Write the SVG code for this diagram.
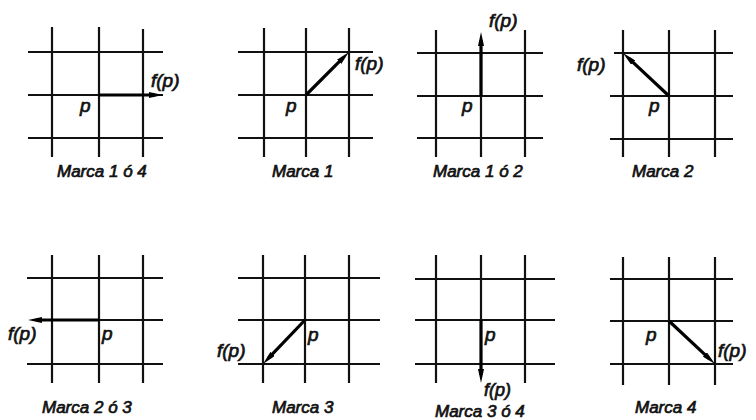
<svg xmlns="http://www.w3.org/2000/svg" width="756" height="420" viewBox="0 0 756 420">
<style>
.g line{stroke:#111;stroke-width:2.2;stroke-linecap:butt}
.a line{stroke:#000;stroke-width:3.2}
text{font-family:"Liberation Sans",Arial,sans-serif;font-style:italic;fill:#111;stroke:#111;stroke-width:0.7}
.lab{font-size:19px}
.cap{font-size:17px}
</style>
<defs>
<marker id="ah" viewBox="0 0 14 6" refX="6" refY="3" markerWidth="14" markerHeight="6" markerUnits="userSpaceOnUse" orient="auto">
<path d="M0,0 L14,3 L0,6 Z" fill="#000"/>
</marker>
</defs>
<rect width="756" height="420" fill="#fff"/>

<g id="panel1" class="g">
<line x1="28" y1="52" x2="163" y2="52"/><line x1="28" y1="95" x2="163" y2="95"/><line x1="28" y1="138" x2="163" y2="138"/>
<line x1="52" y1="27" x2="52" y2="157"/><line x1="99" y1="27" x2="99" y2="157"/><line x1="143" y1="29" x2="143" y2="157"/>
<text class="lab" x="151" y="87">f(p)</text><text class="lab" x="80" y="112">p</text>
<text class="cap" x="57" y="177">Marca 1 ó 4</text>
</g>

<g id="panel2" class="g">
<line x1="238" y1="52" x2="373" y2="52"/><line x1="238" y1="95" x2="373" y2="95"/><line x1="238" y1="138" x2="373" y2="138"/>
<line x1="264" y1="28" x2="264" y2="157"/><line x1="306" y1="28" x2="306" y2="157"/><line x1="349" y1="28" x2="349" y2="157"/>
<text class="lab" x="355" y="70">f(p)</text><text class="lab" x="286" y="112">p</text>
<text class="cap" x="272" y="177">Marca 1</text>
</g>

<g id="panel3" class="g">
<line x1="417" y1="53" x2="543" y2="53"/><line x1="417" y1="96" x2="543" y2="96"/><line x1="417" y1="138" x2="543" y2="138"/>
<line x1="436" y1="30" x2="436" y2="157"/><line x1="481" y1="53" x2="481" y2="157"/><line x1="525" y1="30" x2="525" y2="157"/>
<text class="lab" x="489" y="27">f(p)</text><text class="lab" x="462" y="112">p</text>
<text class="cap" x="433" y="177">Marca 1 ó 2</text>
</g>

<g id="panel4" class="g">
<line x1="614" y1="53" x2="733" y2="53"/><line x1="610" y1="96" x2="733" y2="96"/><line x1="610" y1="139" x2="733" y2="139"/>
<line x1="623" y1="30" x2="623" y2="157"/><line x1="669" y1="30" x2="669" y2="157"/><line x1="715" y1="30" x2="715" y2="157"/>
<text class="lab" x="577" y="71">f(p)</text><text class="lab" x="649" y="112">p</text>
<text class="cap" x="632" y="177">Marca 2</text>
</g>

<g id="panel5" class="g">
<line x1="27" y1="278" x2="163" y2="278"/><line x1="44" y1="320" x2="163" y2="320"/><line x1="27" y1="364" x2="163" y2="364"/>
<line x1="52" y1="255" x2="52" y2="383"/><line x1="99" y1="255" x2="99" y2="383"/><line x1="143" y1="255" x2="143" y2="383"/>
<text class="lab" x="8" y="340">f(p)</text><text class="lab" x="102" y="340">p</text>
<text class="cap" x="42" y="413">Marca 2 ó 3</text>
</g>

<g id="panel6" class="g">
<line x1="238" y1="278" x2="380" y2="278"/><line x1="238" y1="320" x2="380" y2="320"/><line x1="238" y1="364" x2="380" y2="364"/>
<line x1="263" y1="255" x2="263" y2="383"/><line x1="305" y1="255" x2="305" y2="383"/><line x1="349" y1="255" x2="349" y2="383"/>
<text class="lab" x="217" y="357">f(p)</text><text class="lab" x="308" y="341">p</text>
<text class="cap" x="272" y="413">Marca 3</text>
</g>

<g id="panel7" class="g">
<line x1="415" y1="279" x2="555" y2="279"/><line x1="415" y1="320" x2="555" y2="320"/><line x1="415" y1="364" x2="555" y2="364"/>
<line x1="436" y1="255" x2="436" y2="383"/><line x1="481" y1="255" x2="481" y2="320"/><line x1="525" y1="255" x2="525" y2="383"/>
<text class="lab" x="484" y="396" style="font-size:18px">f(p)</text><text class="lab" x="485" y="341">p</text>
<text class="cap" x="435" y="417">Marca 3 ó 4</text>
</g>

<g id="panel8" class="g">
<line x1="610" y1="279" x2="733" y2="279"/><line x1="610" y1="321" x2="733" y2="321"/><line x1="610" y1="364" x2="733" y2="364"/>
<line x1="623" y1="257" x2="623" y2="385"/><line x1="669" y1="257" x2="669" y2="385"/><line x1="715" y1="257" x2="715" y2="385"/>
<text class="lab" x="718" y="357">f(p)</text><text class="lab" x="646" y="341">p</text>
<text class="cap" x="635" y="413">Marca 4</text>
</g>

<g id="connectors" class="a">
<line x1="99" y1="95" x2="155" y2="95" marker-end="url(#ah)"/>
<line x1="306" y1="95" x2="343.3" y2="57.7" marker-end="url(#ah)"/>
<line x1="481" y1="96" x2="481" y2="40" marker-end="url(#ah)"/>
<line x1="669" y1="96" x2="628.8" y2="58.4" marker-end="url(#ah)"/>
<line x1="99" y1="320" x2="36" y2="320" marker-end="url(#ah)"/>
<line x1="305" y1="320" x2="268.5" y2="358.2" marker-end="url(#ah)"/>
<line x1="481" y1="320" x2="481" y2="375" marker-end="url(#ah)"/>
<line x1="669" y1="321" x2="709.2" y2="358.6" marker-end="url(#ah)"/>
</g>
</svg>
